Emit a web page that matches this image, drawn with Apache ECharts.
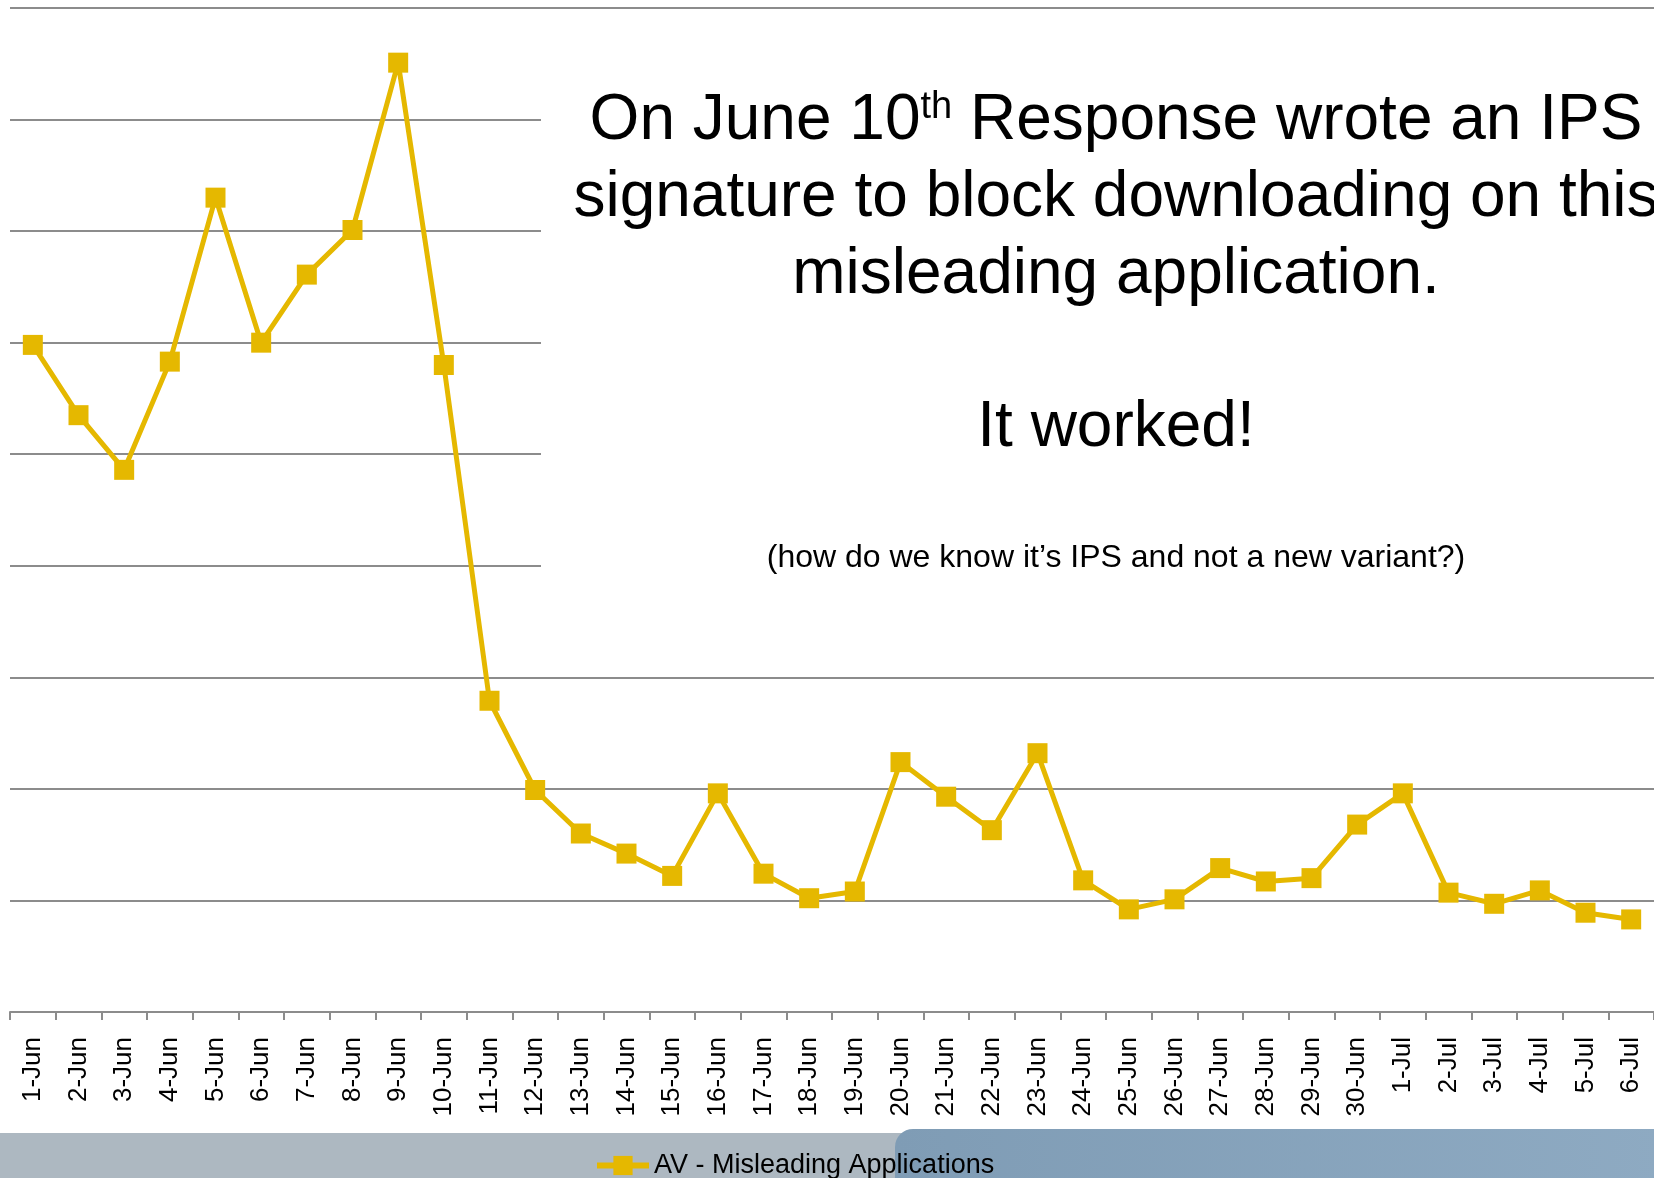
<!DOCTYPE html>
<html>
<head>
<meta charset="utf-8">
<script src="https://cdn.jsdelivr.net/npm/echarts@6/dist/echarts.min.js"></script>
<style>
  html, body { margin: 0; padding: 0; background: #ffffff; }
  #chart { width: 1654px; height: 1178px; }
</style>
</head>
<body>
<div id="chart"></div>
<script>
// ---- Data ----
var dates = ['1-Jun','2-Jun','3-Jun','4-Jun','5-Jun','6-Jun','7-Jun','8-Jun','9-Jun','10-Jun',
             '11-Jun','12-Jun','13-Jun','14-Jun','15-Jun','16-Jun','17-Jun','18-Jun','19-Jun','20-Jun',
             '21-Jun','22-Jun','23-Jun','24-Jun','25-Jun','26-Jun','27-Jun','28-Jun','29-Jun','30-Jun',
             '1-Jul','2-Jul','3-Jul','4-Jul','5-Jul','6-Jul'];
var seriesName = 'AV - Misleading Applications';
var misleadingApps = [598,535,486,583,730,600,661,701,851,580,
                      279,199,160,142,122,196,124,102,108,224,
                      193,163,232,118,92,101,129,117,120,168,
                      196,107,97,109,89,83];
var yMin = 0, yMax = 900, yInterval = 100;

var textLines = {
  line1a: 'On June 10', sup: 'th', line1b: ' Response wrote an IPS',
  line2: 'signature to block downloading on this',
  line3: 'misleading application.',
  line4: 'It worked!',
  line5: '(how do we know it\u2019s IPS and not a new variant?)'
};

var FONT = '"Liberation Sans", Arial, Helvetica, sans-serif';
var GOLD = '#E5B800';

var chart = echarts.init(document.getElementById('chart'), null, { renderer: 'canvas' });

var option = {
  backgroundColor: '#ffffff',
  animation: false,
  grid: { left: 10, top: 8, width: 1649, height: 1004, containLabel: false },
  xAxis: {
    type: 'category',
    data: dates,
    boundaryGap: true,
    axisLine: { show: true, lineStyle: { color: '#8c8c8c', width: 2 } },
    axisTick: { show: true, length: 8, inside: false, alignWithLabel: false, lineStyle: { color: '#8c8c8c', width: 2 } },
    axisLabel: { interval: 0, rotate: 90, margin: 25, fontSize: 26, color: '#000000', fontFamily: FONT },
    splitLine: { show: false }
  },
  yAxis: {
    type: 'value',
    min: yMin, max: yMax, interval: yInterval,
    axisLine: { show: false },
    axisTick: { show: false },
    axisLabel: { show: false },
    splitLine: { show: true, lineStyle: { color: '#8c8c8c', width: 2 } }
  },
  legend: {
    data: [seriesName],
    left: 594, top: 1152,
    padding: 0,
    itemWidth: 52, itemHeight: 24,
    itemGap: 10,
    lineStyle: { width: 6, color: GOLD },
    itemStyle: { color: GOLD },
    textStyle: { fontSize: 27, color: '#000000', fontFamily: FONT, padding: [0, 0, 0, 0] }
  },
  graphic: {
    elements: [
      // white text box covering grid lines
      { type: 'rect', z: 1, shape: { x: 541, y: 62, width: 1120, height: 540 }, style: { fill: '#ffffff' } },
      // bottom slide band
      { type: 'rect', z: 1, shape: { x: 0, y: 1133, width: 1654, height: 50 }, style: { fill: '#ADB8C1' } },
      { type: 'rect', z: 1, shape: { x: 895, y: 1129, width: 820, height: 90, r: 18 },
        style: { fill: new echarts.graphic.LinearGradient(0, 0, 1, 0, [
          { offset: 0, color: '#7F9CB5' }, { offset: 1, color: '#8FABC3' } ]) } },
      // annotation text
      { type: 'text', z: 5, x: 1116, y: 121,
        style: {
          text: textLines.line1a + '{sup|' + textLines.sup + '}' + textLines.line1b,
          font: '64px ' + FONT, fill: '#000000', align: 'center', verticalAlign: 'middle',
          rich: { sup: { fontSize: 38, fontFamily: FONT, fill: '#000000', verticalAlign: 'top', lineHeight: 38 } }
        } },
      { type: 'text', z: 5, x: 1116, y: 198,
        style: { text: textLines.line2, font: '64px ' + FONT, fill: '#000000', align: 'center', verticalAlign: 'middle' } },
      { type: 'text', z: 5, x: 1116, y: 275,
        style: { text: textLines.line3, font: '64px ' + FONT, fill: '#000000', align: 'center', verticalAlign: 'middle' } },
      { type: 'text', z: 5, x: 1116, y: 428,
        style: { text: textLines.line4, font: '64px ' + FONT, fill: '#000000', align: 'center', verticalAlign: 'middle' } },
      { type: 'text', z: 5, x: 1116, y: 558,
        style: { text: textLines.line5, font: '32px ' + FONT, fill: '#000000', align: 'center', verticalAlign: 'middle' } }
    ]
  },
  series: [{
    name: seriesName,
    type: 'line',
    data: misleadingApps,
    z: 3,
    symbol: 'rect',
    symbolSize: 20,
    showAllSymbol: true,
    lineStyle: { color: GOLD, width: 5 },
    itemStyle: { color: GOLD, borderWidth: 0 }
  }]
};

chart.setOption(option);
</script>
</body>
</html>
